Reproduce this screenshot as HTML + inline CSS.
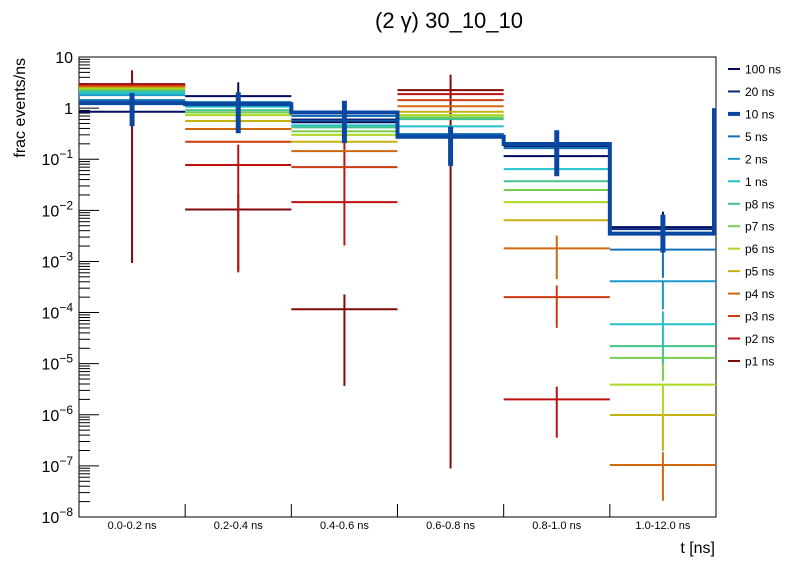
<!DOCTYPE html>
<html><head><meta charset="utf-8"><style>
body{margin:0;background:#fff;}
svg{display:block;font-family:"Liberation Sans",sans-serif;}
</style></head><body>
<svg id="chart" width="796" height="572" viewBox="0 0 796 572" xmlns="http://www.w3.org/2000/svg">
<rect width="796" height="572" fill="#fff"/>
<text x="449" y="28" font-size="22" text-anchor="middle">(2 γ) 30_10_10</text>
<text transform="translate(25,58) rotate(-90)" font-size="16" text-anchor="end">frac events/ns</text>
<text x="715" y="553" font-size="16" text-anchor="end">t [ns]</text>
<g id="plot"></g>
<g id="legend"></g>
</svg>
<script>
const categories=["0.0-0.2 ns","0.2-0.4 ns","0.4-0.6 ns","0.6-0.8 ns","0.8-1.0 ns","1.0-12.0 ns"];
const seriesNames=["100 ns","20 ns","10 ns","5 ns","2 ns","1 ns","p8 ns","p7 ns","p6 ns","p5 ns","p4 ns","p3 ns","p2 ns","p1 ns"];
const seriesColors=["#000a60","#08287c","#0a47a0","#1470b8","#1a98c8","#22c0c8","#44c488","#78cc50","#acd820","#c8b010","#d06810","#cc3c10","#c01010","#800808"];
const s100=[0.85,1.72,0.53,0.27,0.115,0.0047];
const s20=[1.30,1.20,0.60,0.28,0.18,0.0043];
const s10=[1.25,1.20,0.82,0.275,0.198,0.0035];
const s5=[1.43,1.31,0.70,0.31,0.165,0.0017];
const s2=[1.80,1.25,0.58,0.31,0.18,4.1e-4];
const s1=[1.97,1.07,0.46,0.44,0.064,5.9e-5];
const sp8=[2.15,0.91,0.42,0.61,0.037,2.2e-5];
const sp7=[2.25,0.82,0.35,0.66,0.025,1.3e-5];
const sp6=[2.35,0.73,0.30,0.73,0.0145,3.9e-6];
const sp5=[2.46,0.56,0.22,0.85,0.0064,9.9e-7];
const sp4=[2.58,0.39,0.144,1.09,0.0018,1.04e-7];
const sp3=[2.69,0.22,0.070,1.43,2.0e-4,null];
const sp2=[2.82,0.077,0.0145,1.88,2.0e-6,null];
const sp1=[2.95,0.0104,1.16e-4,2.25,null,null];
const errUp10=[0.2,0.23,0.23,0.2,0.27,0.37];
const errDn10=[0.45,0.57,0.6,0.57,0.63,0.37];
const errUpP1=[0.27,0.3,0.29,0.3,0,0];
const errDnP1=[3.5,1.2,1.5,7.4,0,0];
const errUpP2=[0,0.4,1.2,0,0.25,0];
const errDnP2=[0,2.1,0.85,0,0.75,0];
const errUpP3=[0,0,0,0,0.23,0];
const errDnP3=[0,0,0,0,0.6,0];
const errUpP4=[0,0,0,0,0.25,0.25];
const errDnP4=[0,0,0,0,0.6,0.7];
const errUp100=[0,0.27,0,0,0,0.3];
const errDn100=[0,0,0,0,0,0];
const errUp5=[0,0,0,0,0,0];
const errDn5=[0,0,0,0,0,0.55];
const errUp2=[0,0,0,0,0,0];
const errDn2=[0,0,0,0,0,0.55];
const errUp1=[0,0,0,0,0,0.25];
const errDn1=[0,0,0,0,0,0.45];
const errUpP8=[0,0,0,0,0,0];
const errDnP8=[0,0,0,0,0,0.35];
const errUpP7=[0,0,0,0,0,0];
const errDnP7=[0,0,0,0,0,0.45];
const errUpP6=[0,0,0,0,0,0];
const errDnP6=[0,0,0,0,0,0.6];
const errUpP5=[0,0,0,0,0,0];
const errDnP5=[0,0,0,0,0,0.7];
const yTickExps=[1,0,-1,-2,-3,-4,-5,-6,-7,-8];
const seriesVals=[s100,s20,s10,s5,s2,s1,sp8,sp7,sp6,sp5,sp4,sp3,sp2,sp1];
const errUps={0:errUp100,2:errUp10,3:errUp5,4:errUp2,5:errUp1,6:errUpP8,7:errUpP7,8:errUpP6,9:errUpP5,10:errUpP4,11:errUpP3,12:errUpP2,13:errUpP1};
const errDns={0:errDn100,2:errDn10,3:errDn5,4:errDn2,5:errDn1,6:errDnP8,7:errDnP7,8:errDnP6,9:errDnP5,10:errDnP4,11:errDnP3,12:errDnP2,13:errDnP1};

const NS="http://www.w3.org/2000/svg";
const L=79,R=716,T=57,B=517,minE=-8,maxE=1;
const binW=(R-L)/categories.length;
function xEdge(i){return L+i*binW;}
function xCenter(i){return L+(i+0.5)*binW;}
function yLog(e){return B-(e-minE)/(maxE-minE)*(B-T);}
function yVal(v){return yLog(Math.log10(v));}
function clampY(y){return Math.max(T,Math.min(B,y));}
const plot=document.getElementById('plot');
const legend=document.getElementById('legend');
function mk(tag,attrs,parent){const e=document.createElementNS(NS,tag);for(const k in attrs)e.setAttribute(k,attrs[k]);parent.appendChild(e);return e;}

const frame=mk('rect',{x:L,y:T,width:R-L,height:B-T,fill:'none',stroke:'#000','stroke-width':1},plot);



for(let e=minE;e<maxE;e++){
  for(let m=1;m<10;m++){
    const y=yVal(m*Math.pow(10,e));
    const len=m===1?20:11;
    const t=mk('line',{x1:L,x2:L+len,y1:y,y2:y,stroke:'#000','stroke-width':1},plot);
    
    
  }
}
yTickExps.forEach(ex=>{
  const y=yLog(ex);
  const t=mk('text',{x:73,y:y+6,'font-size':16,'text-anchor':'end'},plot);
  
  
  if(ex===1)t.textContent='10';
  else if(ex===0)t.textContent='1';
  else{
    t.textContent='10';
    const sup=mk('tspan',{dy:-7,'font-size':12},t);
    sup.textContent='\u2212'+(-ex);
  }
});
for(let i=1;i<categories.length;i++){
  const t=mk('line',{x1:xEdge(i),x2:xEdge(i),y1:B,y2:B-13,stroke:'#000','stroke-width':1},plot);
  
  
}
categories.forEach((c,i)=>{
  const t=mk('text',{x:xCenter(i),y:529,'font-size':11,'text-anchor':'middle'},plot);
  
  
  t.textContent=c;
});

const order=[13,12,11,10,9,8,7,6,5,4,3,1,0,2];
order.forEach(si=>{
  const vals=seriesVals[si],col=seriesColors[si];
  const g=mk('g',{},plot);
  
  
  const thick=si===2;
  const sw=thick?4:2;
  if(thick){
    let d='';
    vals.forEach((v,i)=>{
      const y=yVal(v);
      d+=(i===0?'M':'L')+xEdge(i)+','+y+'L'+xEdge(i+1)+','+y;
    });
    d+='L'+(R-2)+','+yVal(vals[vals.length-1])+'L'+(R-2)+','+yVal(1);
    const p=mk('path',{d:d,fill:'none',stroke:col,'stroke-width':sw,'stroke-linejoin':'miter'},g);
    
    
  }
  vals.forEach((v,i)=>{
    if(v===null)return;
    const y=yVal(v);
    if(!thick){
      const h=mk('line',{x1:xEdge(i),x2:xEdge(i+1),y1:y,y2:y,stroke:col,'stroke-width':sw},g);
      
      
    }
    const up=errUps[si]?errUps[si][i]:0,dn=errDns[si]?errDns[si][i]:0;
    if(up>0||dn>0){
      const e=Math.log10(v);
      const y1=clampY(yLog(e+up)),y2=clampY(yLog(e-dn));
      const eb=mk('line',{x1:xCenter(i),x2:xCenter(i),y1:y1,y2:y2,stroke:col,'stroke-width':thick?5:2},g);
      
      
    }
  });
});

seriesNames.forEach((n,i)=>{
  const y=69+i*22.46;
  const g=mk('g',{},legend);
  
  
  mk('line',{x1:728,x2:740,y1:y,y2:y,stroke:seriesColors[i],'stroke-width':i===2?4:2},g);
  const t=mk('text',{x:745,y:y+4.5,'font-size':12},g);
  t.textContent=n;
});
</script>
</body></html>
